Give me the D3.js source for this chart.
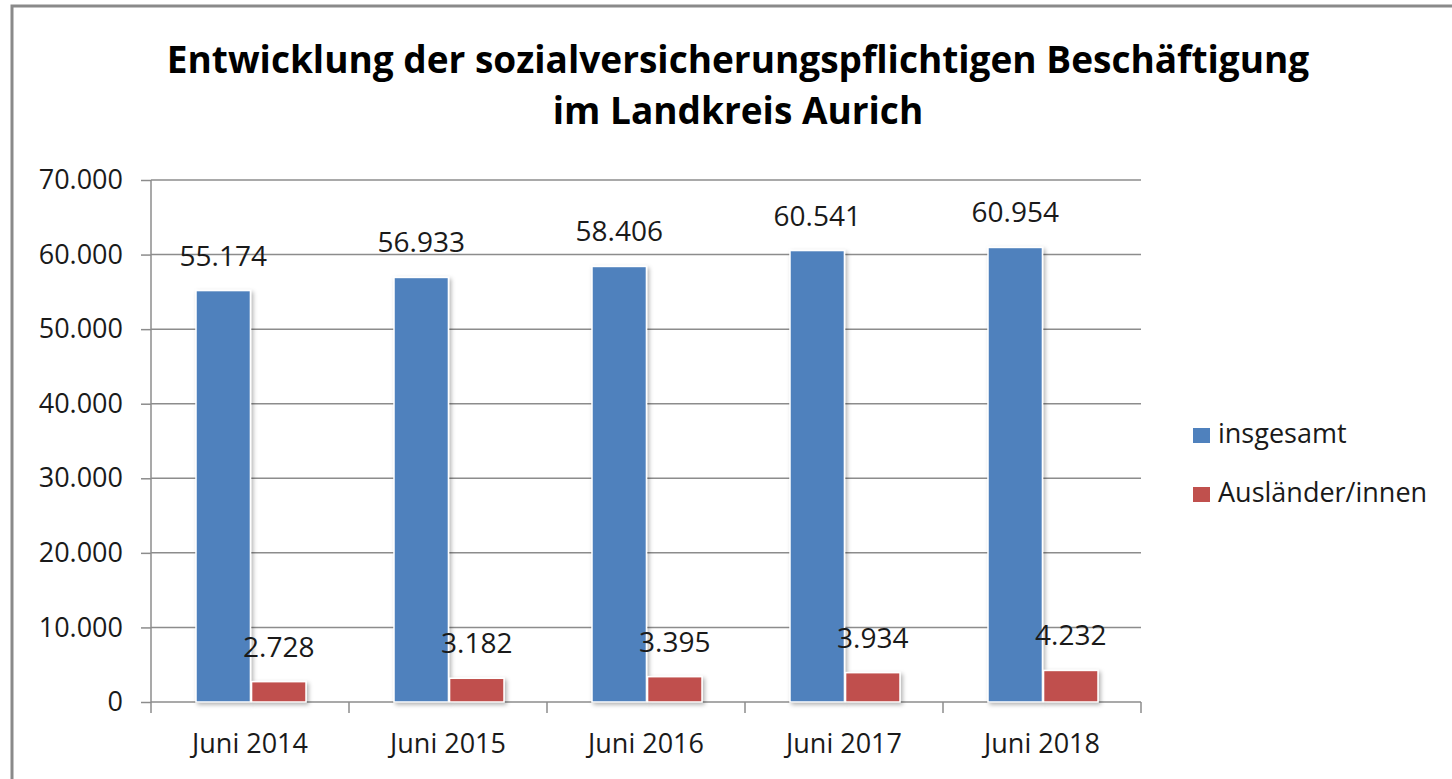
<!DOCTYPE html>
<html lang="de">
<head>
<meta charset="UTF-8">
<title>Entwicklung der sozialversicherungspflichtigen Beschäftigung</title>
<script src="https://d3js.org/d3.v7.min.js"></script>
<style>
    body { margin: 0; background: #fff; font-family: 'Open Sans', sans-serif; }
    svg text { font-family: 'Open Sans', sans-serif; }
    .grid line { stroke: #8c8c8c; stroke-width: 1.5; }
    .axis path, .axis line { stroke: #8c8c8c; stroke-width: 1.5; }
    .axis text { font-size: 27px; fill: #1a1a1a; }
    .label { font-size: 28px; fill: #1a1a1a; text-anchor: middle; }
    .title { font-size: 37px; font-weight: 700; text-anchor: middle; fill: #000; }
    .legend text { font-size: 27px; fill: #1a1a1a; }
</style>
</head>
<body>
<svg width="1452" height="779"></svg>
<script>
// Daten
const categories = ["Juni 2014", "Juni 2015", "Juni 2016", "Juni 2017", "Juni 2018"];
const seriesNames = ["insgesamt", "Ausländer/innen"];
const insgesamt = [55174, 56933, 58406, 60541, 60954];
const auslaender = [2728, 3182, 3395, 3934, 4232];
const yTicks = [0, 10000, 20000, 30000, 40000, 50000, 60000, 70000];
const colors = ["#4f81bd", "#c0504d"];

const de = d3.formatLocale({ decimal: ",", thousands: ".", grouping: [3], currency: ["", " €"] });
const fmt = de.format(",d");

const svg = d3.select("svg");
const margin = { top: 180, left: 151, right: 311, bottom: 77 };
const width = 1452 - margin.left - margin.right;
const height = 779 - margin.top - margin.bottom;

// Rahmen
svg.append("rect")
    .attr("x", 12).attr("y", 6)
    .attr("width", 1452).attr("height", 790)
    .attr("fill", "none").attr("stroke", "#8a8a8a").attr("stroke-width", 3);

// Schatten-Filter fuer Balken
const defs = svg.append("defs");
const f = defs.append("filter").attr("id", "shadow")
    .attr("x", "-20%").attr("y", "-20%").attr("width", "150%").attr("height", "150%");
f.append("feDropShadow").attr("dx", 2).attr("dy", 2).attr("stdDeviation", 2)
    .attr("flood-color", "#000").attr("flood-opacity", 0.3);

// Titel
const title = svg.append("text").attr("class", "title");
title.append("tspan").attr("x", 738).attr("y", 73)
    .text("Entwicklung der sozialversicherungspflichtigen Beschäftigung");
title.append("tspan").attr("x", 738).attr("y", 124)
    .text("im Landkreis Aurich");

const g = svg.append("g").attr("transform", `translate(${margin.left},${margin.top})`);

const x = d3.scaleBand().domain(categories).range([0, width]).paddingInner(0).paddingOuter(0);
const x1 = d3.scaleBand().domain(seriesNames).range([45, 45 + 110]).paddingInner(0.02);
const y = d3.scaleLinear().domain([0, 70000]).range([height, 0]);

// Gitterlinien
g.append("g").attr("class", "grid")
    .selectAll("line").data(yTicks.filter(d => d > 0)).join("line")
    .attr("x1", 0).attr("x2", width)
    .attr("y1", d => y(d)).attr("y2", d => y(d));

// Y-Achse
g.append("g").attr("class", "axis")
    .call(d3.axisLeft(y).tickValues(yTicks).tickSize(10).tickSizeOuter(0).tickPadding(18).tickFormat(fmt))
    .call(a => a.attr("font-family", null).attr("font-size", null))
    .call(a => a.select(".domain").attr("d", `M0,0V${height}`));

// X-Achse
const xAxis = g.append("g").attr("class", "axis")
    .attr("transform", `translate(0,${height})`)
    .call(d3.axisBottom(x).tickSize(0).tickPadding(32))
    .call(a => a.attr("font-family", null).attr("font-size", null));
xAxis.select(".domain").remove();
xAxis.selectAll(".tick line").remove();
g.append("g").attr("class", "axis")
    .selectAll("line").data(d3.range(categories.length + 1)).join("line")
    .attr("x1", i => i * x.bandwidth()).attr("x2", i => i * x.bandwidth())
    .attr("y1", height).attr("y2", height + 11);
g.append("line").attr("x1", 0).attr("x2", width).attr("y1", height).attr("y2", height)
    .attr("stroke", "#8c8c8c").attr("stroke-width", 1.5);

// Balken
const rows = categories.map((c, i) => ({ cat: c, vals: [insgesamt[i], auslaender[i]] }));
const grp = g.selectAll(".cat").data(rows).join("g")
    .attr("transform", d => `translate(${x(d.cat)},0)`);

grp.selectAll("rect").data(d => d.vals.map((v, j) => ({ name: seriesNames[j], v, j }))).join("rect")
    .attr("x", d => x1(d.name))
    .attr("width", x1.bandwidth())
    .attr("y", d => y(d.v))
    .attr("height", d => height - y(d.v))
    .attr("fill", d => colors[d.j])
    .attr("stroke", "#fff").attr("stroke-width", 1.5)
    .attr("filter", "url(#shadow)");

grp.selectAll("text.label").data(d => d.vals.map((v, j) => ({ name: seriesNames[j], v, j }))).join("text")
    .attr("class", "label")
    .attr("x", d => x1(d.name) + x1.bandwidth() / 2)
    .attr("y", d => y(d.v) - 25)
    .text(d => fmt(d.v));

// Legende
const leg = svg.append("g").attr("class", "legend")
    .selectAll("g").data(seriesNames).join("g")
    .attr("transform", (d, i) => `translate(1193,${428 + i * 59})`);
leg.append("rect").attr("width", 17).attr("height", 15).attr("fill", (d, i) => colors[i]);
leg.append("text").attr("x", 25).attr("y", 15).text(d => d);
</script>
</body>
</html>
